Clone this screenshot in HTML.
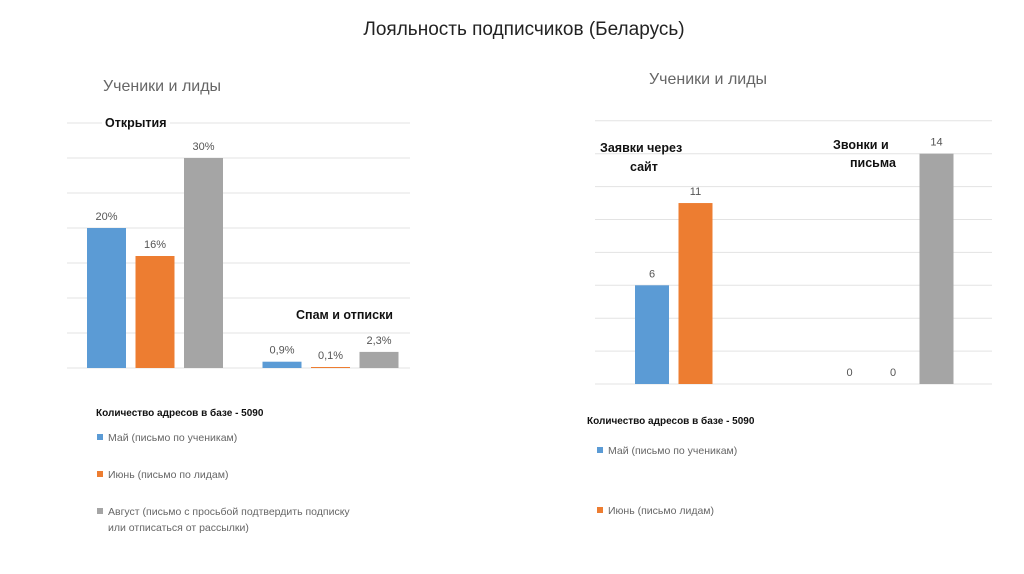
<!DOCTYPE html>
<html><head><meta charset="utf-8"><style>
html,body{margin:0;padding:0;background:#fff;}
svg{display:block;font-family:"Liberation Sans","Noto Sans CJK SC",sans-serif;}
</style></head><body>
<svg id="s" width="1024" height="574" xmlns="http://www.w3.org/2000/svg">
<text x="524" y="35" font-size="19" text-anchor="middle" fill="#222">Лояльность подписчиков (Беларусь)</text>
<text x="103" y="91" font-size="16" fill="#666">Ученики и лиды</text>
<text x="649" y="84" font-size="16" fill="#666">Ученики и лиды</text>
<g id="left"></g><g id="right"></g>
<rect x="102" y="114" width="68" height="16" fill="#fff"/>
<text x="105" y="127" font-size="12.5" font-weight="bold" fill="#111">Открытия</text>
<text x="296" y="319" font-size="12.5" font-weight="bold" fill="#111">Спам и отписки</text>
<text x="600" y="152" font-size="12.5" font-weight="bold" fill="#111">Заявки через</text>
<text x="630" y="171" font-size="12.5" font-weight="bold" fill="#111">сайт</text>
<text x="833" y="149" font-size="12.5" font-weight="bold" fill="#111">Звонки и</text>
<text x="850" y="167" font-size="12.5" font-weight="bold" fill="#111">письма</text>
<text x="96" y="416" font-size="10" font-weight="bold" fill="#111">Количество адресов в базе -  5090</text>
<rect x="97" y="434" width="6" height="6" fill="#5b9bd5"/>
<text x="108" y="441" font-size="10.5" fill="#666">Май (письмо по ученикам)</text>
<rect x="97" y="471" width="6" height="6" fill="#ed7d31"/>
<text x="108" y="478" font-size="10.5" fill="#666">Июнь (письмо по лидам)</text>
<rect x="97" y="508" width="6" height="6" fill="#a5a5a5"/>
<text x="108" y="515" font-size="10.5" fill="#666">Август (письмо с просьбой подтвердить подписку</text>
<text x="108" y="531" font-size="10.5" fill="#666">или отписаться от рассылки)</text>
<text x="587" y="424" font-size="10" font-weight="bold" fill="#111">Количество адресов в базе -  5090</text>
<rect x="597" y="447" width="6" height="6" fill="#5b9bd5"/>
<text x="608" y="454" font-size="10.5" fill="#666">Май (письмо по ученикам)</text>
<rect x="597" y="507" width="6" height="6" fill="#ed7d31"/>
<text x="608" y="514" font-size="10.5" fill="#666">Июнь  (письмо лидам)</text>
</svg>
<script>
const colors=["#5b9bd5","#ed7d31","#a5a5a5"];
const leftCategories=["Открытия","Спам и отписки"];
const leftMay=[20,0.9];
const leftJune=[16,0.1];
const leftAug=[30,2.3];
const leftLabels=[["20%","0,9%"],["16%","0,1%"],["30%","2,3%"]];
const leftTicks=[0,5,10,15,20,25,30,35];
const rightCategories=["Заявки через сайт","Звонки и письма"];
const rightMay=[6,0];
const rightJune=[11,0];
const rightAug=[null,14];
const rightTicks=[0,2,4,6,8,10,12,14,16];
const NS="http://www.w3.org/2000/svg";
function mk(t,a,p){const e=document.createElementNS(NS,t);for(const k in a)e.setAttribute(k,a[k]);p.appendChild(e);return e;}
function draw(g,cfg){
  const y=v=>cfg.base-v*cfg.scale;
  cfg.ticks.forEach(t=>{const l=mk("line",{x1:cfg.x0,x2:cfg.x1,y1:y(t),y2:y(t),stroke:"#e3e3e3","stroke-width":1},g);
    
    });
  cfg.series.forEach((s,si)=>{s.forEach((v,ci)=>{
    if(v===null||v===undefined) return;
    const cx=cfg.groupX(ci)+(si-1)*cfg.step;
    if(cfg.skipZero && v===0){
      const t=mk("text",{x:cx,y:cfg.base-8,"font-size":11,"text-anchor":"middle",fill:"#555"},g);t.textContent="0";
      
      
      return;}
    const h=Math.max(v*cfg.scale,1);
    const r=mk("rect",{x:cx-cfg.bw/2,y:cfg.base-h,width:cfg.bw,height:h,fill:colors[si]},g);
    
    
    const t=mk("text",{x:cx,y:cfg.base-h-8,"font-size":11,"text-anchor":"middle",fill:"#555"},g);
    t.textContent=cfg.labels?cfg.labels[si][ci]:String(v);
    
    
  });});
}
draw(document.getElementById("left"),{base:368,scale:7,x0:67,x1:410,ticks:leftTicks,series:[leftMay,leftJune,leftAug],labels:leftLabels,bw:39,step:48.5,groupX:ci=>155+ci*175.5});
draw(document.getElementById("right"),{base:384,scale:16.45,x0:595,x1:992,ticks:rightTicks,series:[rightMay,rightJune,rightAug],bw:34,step:43.5,skipZero:true,groupX:ci=>695.5+ci*197.5});
</script>
</body></html>
